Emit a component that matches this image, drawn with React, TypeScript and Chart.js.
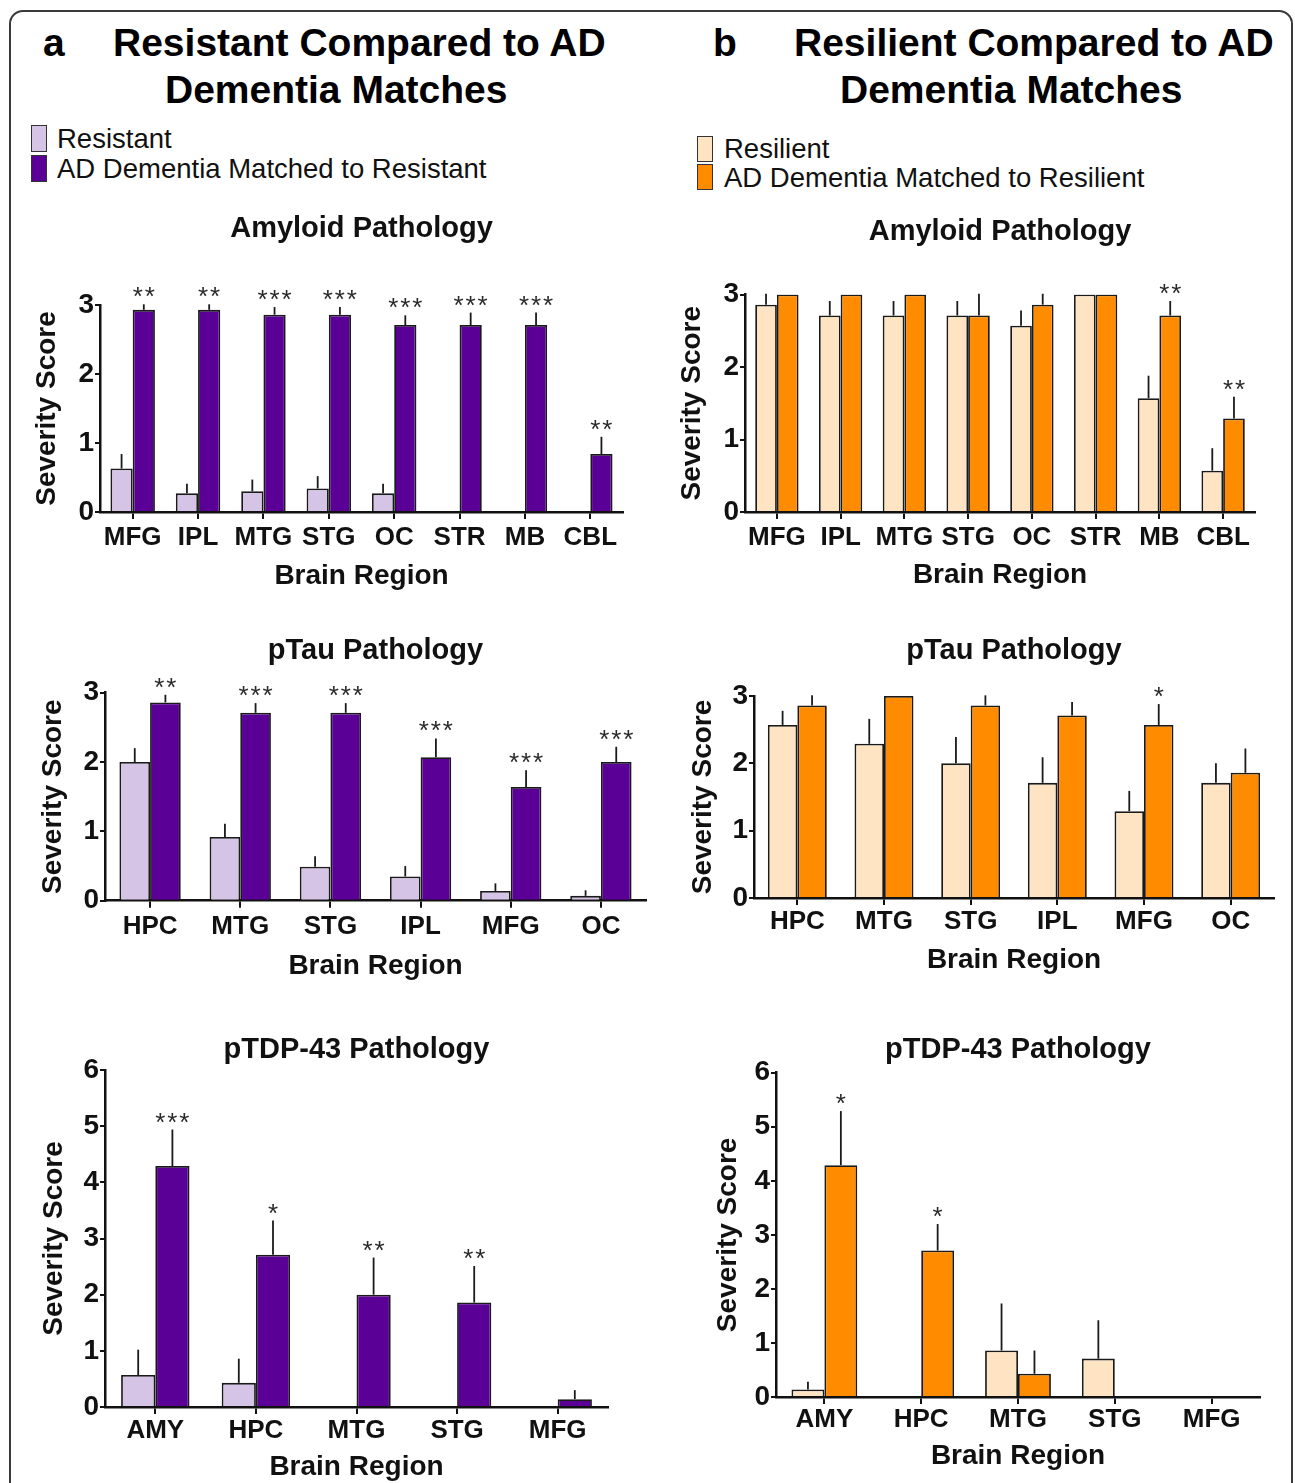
import React, { useEffect, useRef } from "react";
import { Chart, registerables } from "chart.js";

Chart.register(...registerables);

// ---------------- data ----------------
const AMYLOID_REGIONS = ["MFG", "IPL", "MTG", "STG", "OC", "STR", "MB", "CBL"];
const PTAU_REGIONS = ["HPC", "MTG", "STG", "IPL", "MFG", "OC"];
const TDP_REGIONS = ["AMY", "HPC", "MTG", "STG", "MFG"];

const SERIES_RESISTANT = "Resistant";
const SERIES_RESISTANT_MATCH = "AD Dementia Matched to Resistant";
const SERIES_RESILIENT = "Resilient";
const SERIES_RESILIENT_MATCH = "AD Dementia Matched to Resilient";

// Panel a – Amyloid
const amyloidResistant = [0.63, 0.27, 0.3, 0.34, 0.27, 0, 0, 0];
const amyloidResistantErr = [0.21, 0.14, 0.17, 0.18, 0.14, 0, 0, 0];
const amyloidResistantMatch = [2.93, 2.93, 2.86, 2.86, 2.71, 2.71, 2.71, 0.84];
const amyloidResistantMatchErr = [0.08, 0.08, 0.11, 0.11, 0.14, 0.18, 0.18, 0.25];
const amyloidResistantSig = ["**", "**", "***", "***", "***", "***", "***", "**"];

// Panel b – Amyloid
const amyloidResilient = [2.86, 2.71, 2.71, 2.71, 2.57, 3.0, 1.57, 0.57];
const amyloidResilientErr = [0.15, 0.2, 0.2, 0.2, 0.21, 0, 0.31, 0.31];
const amyloidResilientMatch = [3.0, 3.0, 3.0, 2.71, 2.86, 3.0, 2.71, 1.29];
const amyloidResilientMatchErr = [0, 0, 0, 0.3, 0.15, 0, 0.2, 0.3];
const amyloidResilientSig = ["", "", "", "", "", "", "**", "**"];

// Panel a – pTau
const ptauResistant = [2.0, 0.92, 0.49, 0.35, 0.14, 0.07];
const ptauResistantErr = [0.2, 0.19, 0.15, 0.15, 0.11, 0.08];
const ptauResistantMatch = [2.86, 2.71, 2.71, 2.07, 1.64, 2.0];
const ptauResistantMatchErr = [0.11, 0.14, 0.14, 0.27, 0.24, 0.22];
const ptauResistantSig = ["**", "***", "***", "***", "***", "***"];

// Panel b – pTau
const ptauResilient = [2.57, 2.29, 2.0, 1.71, 1.29, 1.71];
const ptauResilientErr = [0.21, 0.37, 0.39, 0.38, 0.3, 0.29];
const ptauResilientMatch = [2.86, 3.0, 2.86, 2.71, 2.57, 1.86];
const ptauResilientMatchErr = [0.15, 0, 0.15, 0.2, 0.31, 0.36];
const ptauResilientSig = ["", "", "", "", "*", ""];

// Panel a – pTDP-43
const tdpResistant = [0.57, 0.43, 0, 0, 0];
const tdpResistantErr = [0.45, 0.43, 0, 0, 0];
const tdpResistantMatch = [4.29, 2.71, 2.0, 1.86, 0.14];
const tdpResistantMatchErr = [0.65, 0.61, 0.66, 0.65, 0.16];
const tdpResistantSig = ["***", "*", "**", "**", ""];

// Panel b – pTDP-43
const tdpResilient = [0.14, 0, 0.86, 0.71, 0];
const tdpResilientErr = [0.14, 0, 0.87, 0.71, 0];
const tdpResilientMatch = [4.29, 2.71, 0.43, 0, 0];
const tdpResilientMatchErr = [1.0, 0.49, 0.43, 0, 0];
const tdpResilientSig = ["*", "*", "", "", ""];

// ---------------- style ----------------
const FONT = '"Liberation Sans", Arial, Helvetica, sans-serif';
const INK = "#111111";
const COLOR_RESISTANT = "#d5c4e5";
const COLOR_RESISTANT_MATCH = "#5b0096";
const COLOR_RESILIENT = "#ffe4c4";
const COLOR_RESILIENT_MATCH = "#ff8c00";

type Panel = {
  title: string;
  labels: string[];
  a: number[];
  aErr: number[];
  b: number[];
  bErr: number[];
  sig: string[];
  nameA: string;
  nameB: string;
  colorA: string;
  colorB: string;
  yMax: number;
  areaLeft: number;
  areaRight: number;
  areaTop: number;
  areaBottom: number;
  titleY: number;
  xTitleY: number;
  yTitleX: number;
  tickGap: number;
};

const PANELS: Panel[] = [
  {
    title: "Amyloid Pathology", labels: AMYLOID_REGIONS,
    a: amyloidResistant, aErr: amyloidResistantErr,
    b: amyloidResistantMatch, bErr: amyloidResistantMatchErr, sig: amyloidResistantSig,
    nameA: SERIES_RESISTANT, nameB: SERIES_RESISTANT_MATCH,
    colorA: COLOR_RESISTANT, colorB: COLOR_RESISTANT_MATCH, yMax: 3,
    areaLeft: 100, areaRight: 623, areaTop: 305, areaBottom: 512,
    titleY: 229, xTitleY: 576, yTitleX: 47, tickGap: 26,
  },
  {
    title: "Amyloid Pathology", labels: AMYLOID_REGIONS,
    a: amyloidResilient, aErr: amyloidResilientErr,
    b: amyloidResilientMatch, bErr: amyloidResilientMatchErr, sig: amyloidResilientSig,
    nameA: SERIES_RESILIENT, nameB: SERIES_RESILIENT_MATCH,
    colorA: COLOR_RESILIENT, colorB: COLOR_RESILIENT_MATCH, yMax: 3,
    areaLeft: 745, areaRight: 1255, areaTop: 294.5, areaBottom: 512,
    titleY: 232, xTitleY: 575, yTitleX: 692, tickGap: 26,
  },
  {
    title: "pTau Pathology", labels: PTAU_REGIONS,
    a: ptauResistant, aErr: ptauResistantErr,
    b: ptauResistantMatch, bErr: ptauResistantMatchErr, sig: ptauResistantSig,
    nameA: SERIES_RESISTANT, nameB: SERIES_RESISTANT_MATCH,
    colorA: COLOR_RESISTANT, colorB: COLOR_RESISTANT_MATCH, yMax: 3,
    areaLeft: 105, areaRight: 646, areaTop: 692.7, areaBottom: 900.7,
    titleY: 651, xTitleY: 966, yTitleX: 53, tickGap: 26,
  },
  {
    title: "pTau Pathology", labels: PTAU_REGIONS,
    a: ptauResilient, aErr: ptauResilientErr,
    b: ptauResilientMatch, bErr: ptauResilientMatchErr, sig: ptauResilientSig,
    nameA: SERIES_RESILIENT, nameB: SERIES_RESILIENT_MATCH,
    colorA: COLOR_RESILIENT, colorB: COLOR_RESILIENT_MATCH, yMax: 3,
    areaLeft: 754, areaRight: 1274, areaTop: 696, areaBottom: 898,
    titleY: 651, xTitleY: 960, yTitleX: 703, tickGap: 24,
  },
  {
    title: "pTDP-43 Pathology", labels: TDP_REGIONS,
    a: tdpResistant, aErr: tdpResistantErr,
    b: tdpResistantMatch, bErr: tdpResistantMatchErr, sig: tdpResistantSig,
    nameA: SERIES_RESISTANT, nameB: SERIES_RESISTANT_MATCH,
    colorA: COLOR_RESISTANT, colorB: COLOR_RESISTANT_MATCH, yMax: 6,
    areaLeft: 105, areaRight: 608, areaTop: 1070, areaBottom: 1407,
    titleY: 1050, xTitleY: 1467, yTitleX: 54, tickGap: 24,
  },
  {
    title: "pTDP-43 Pathology", labels: TDP_REGIONS,
    a: tdpResilient, aErr: tdpResilientErr,
    b: tdpResilientMatch, bErr: tdpResilientMatchErr, sig: tdpResilientSig,
    nameA: SERIES_RESILIENT, nameB: SERIES_RESILIENT_MATCH,
    colorA: COLOR_RESILIENT, colorB: COLOR_RESILIENT_MATCH, yMax: 6,
    areaLeft: 776, areaRight: 1260, areaTop: 1072.7, areaBottom: 1397,
    titleY: 1050, xTitleY: 1456, yTitleX: 728, tickGap: 23,
  },
];

// error bars (upper only) and significance stars
const errorBarPlugin = {
  id: "errorBarsAndStars",
  afterDatasetsDraw(chart: any) {
    const ctx = chart.ctx;
    const yScale = chart.scales.y;
    chart.data.datasets.forEach((ds: any, i: number) => {
      const meta = chart.getDatasetMeta(i);
      meta.data.forEach((bar: any, j: number) => {
        const v = ds.data[j];
        const e = (ds.errors && ds.errors[j]) || 0;
        const errTop = yScale.getPixelForValue(v + e);
        if (e > 0) {
          ctx.save();
          ctx.strokeStyle = "#1a1a1a";
          ctx.lineWidth = 1.8;
          ctx.beginPath();
          ctx.moveTo(bar.x, bar.y);
          ctx.lineTo(bar.x, errTop);
          ctx.stroke();
          ctx.restore();
        }
        const s = ds.stars && ds.stars[j];
        if (s) {
          const n = s.length;
          ctx.save();
          ctx.fillStyle = "#2a2a2a";
          ctx.font = `26px ${FONT}`;
          ctx.textAlign = "center";
          ctx.textBaseline = "alphabetic";
          for (let k = 0; k < n; k++) {
            ctx.fillText("*", bar.x + (k - (n - 1) / 2) * 12, errTop + 1);
          }
          ctx.restore();
        }
      });
    });
  },
};

function BarPanel({ p }: { p: Panel }) {
  const ref = useRef<HTMLCanvasElement | null>(null);
  const canvasLeft = p.yTitleX - 20;
  const yW = p.areaLeft - canvasLeft;
  const padR = 12;
  const canvasW = p.areaRight + padR - canvasLeft;
  const canvasTop = p.titleY - 25;
  const xH = p.xTitleY + 18 - p.areaBottom;
  const canvasH = p.xTitleY + 18 - canvasTop;
  const titleSize = 29;

  useEffect(() => {
    if (!ref.current) return;
    const chart = new Chart(ref.current, {
      type: "bar",
      data: {
        labels: p.labels,
        datasets: [
          {
            label: p.nameA,
            data: p.a,
            errors: p.aErr,
            backgroundColor: p.colorA,
            borderColor: "#1a1a1a",
            borderWidth: 1.8,
          } as any,
          {
            label: p.nameB,
            data: p.b,
            errors: p.bErr,
            stars: p.sig,
            backgroundColor: p.colorB,
            borderColor: "#1a1a1a",
            borderWidth: 1.8,
          } as any,
        ],
      },
      options: {
        responsive: false,
        animation: false,
        events: [],
        layout: { padding: { left: 0, right: padR, top: 0, bottom: 0 } },
        datasets: { bar: { barPercentage: 1, categoryPercentage: 0.68 } },
        plugins: {
          legend: { display: false },
          tooltip: { enabled: false },
          title: {
            display: true,
            text: p.title,
            fullSize: false,
            color: INK,
            font: { family: FONT, size: titleSize, weight: "bold", lineHeight: 1 },
            padding: { top: 25 - titleSize / 2, bottom: p.areaTop - p.titleY - titleSize / 2 },
          },
        },
        scales: {
          x: {
            type: "category",
            offset: true,
            grid: {
              offset: false,
              drawOnChartArea: false,
              drawTicks: true,
              tickLength: 7,
              color: INK,
              lineWidth: 2,
            },
            border: { display: true, color: INK, width: 2.5 },
            ticks: {
              color: INK,
              padding: p.tickGap - 7 - 13,
              maxRotation: 0,
              autoSkip: false,
              font: { family: FONT, size: 26, weight: "bold", lineHeight: 1 },
            },
            title: {
              display: true,
              text: "Brain Region",
              color: INK,
              font: { family: FONT, size: 28, weight: "bold", lineHeight: 1 },
              padding: { top: 0, bottom: 4 },
            },
            afterFit: (scale: any) => {
              scale.height = xH;
            },
          },
          y: {
            type: "linear",
            min: 0,
            max: p.yMax,
            grid: {
              drawOnChartArea: false,
              drawTicks: true,
              tickLength: 5,
              color: INK,
              lineWidth: 2,
            },
            border: { display: true, color: INK, width: 2.5 },
            ticks: {
              stepSize: 1,
              color: INK,
              padding: 1,
              font: { family: FONT, size: 28, weight: "bold", lineHeight: 1 },
            },
            title: {
              display: true,
              text: "Severity Score",
              color: INK,
              font: { family: FONT, size: 28, weight: "bold", lineHeight: 1 },
              padding: { top: 6, bottom: 0 },
            },
            afterFit: (scale: any) => {
              scale.width = yW;
            },
          },
        },
      } as any,
      plugins: [errorBarPlugin],
    });
    return () => chart.destroy();
  }, []);

  return (
    <canvas
      ref={ref}
      width={canvasW}
      height={canvasH}
      style={{
        position: "absolute",
        left: canvasLeft,
        top: canvasTop,
        width: canvasW,
        height: canvasH,
      }}
    />
  );
}

const headerStyle: React.CSSProperties = {
  position: "absolute",
  fontFamily: FONT,
  fontWeight: "bold",
  fontSize: 39,
  lineHeight: "39px",
  whiteSpace: "nowrap",
  color: "#000",
};

const legendTextStyle: React.CSSProperties = {
  position: "absolute",
  fontFamily: FONT,
  fontSize: 27.5,
  lineHeight: "27.5px",
  whiteSpace: "nowrap",
  color: "#111",
};

function Swatch({ left, top, h, color }: { left: number; top: number; h: number; color: string }) {
  return (
    <div
      style={{
        position: "absolute",
        left,
        top,
        width: 16,
        height: h,
        background: color,
        border: "1.5px solid #333",
        boxSizing: "border-box",
      }}
    />
  );
}

export default function App() {
  return (
    <div
      style={{
        position: "absolute",
        left: 0,
        top: 0,
        width: 1295,
        height: 1483,
        overflow: "hidden",
        background: "#fff",
        fontFamily: FONT,
      }}
    >
      <div
        style={{
          position: "absolute",
          left: 9,
          top: 10,
          width: 1284,
          height: 1520,
          border: "2px solid #3a3a3a",
          borderRadius: 14,
          boxSizing: "border-box",
        }}
      />
      {/* Panel a header */}
      <div style={{ ...headerStyle, left: 43, top: 23 }}>a</div>
      <div style={{ ...headerStyle, left: 113, top: 23 }}>Resistant Compared to AD</div>
      <div style={{ ...headerStyle, left: 165, top: 70 }}>Dementia Matches</div>
      {/* Panel b header */}
      <div style={{ ...headerStyle, left: 713, top: 23 }}>b</div>
      <div style={{ ...headerStyle, left: 794, top: 23 }}>Resilient Compared to AD</div>
      <div style={{ ...headerStyle, left: 840, top: 70 }}>Dementia Matches</div>

      {/* Legend a */}
      <Swatch left={31} top={125} h={27} color={COLOR_RESISTANT} />
      <Swatch left={31} top={155} h={27} color={COLOR_RESISTANT_MATCH} />
      <div style={{ ...legendTextStyle, left: 57, top: 124.7 }}>{SERIES_RESISTANT}</div>
      <div style={{ ...legendTextStyle, left: 57, top: 154.7 }}>{SERIES_RESISTANT_MATCH}</div>

      {/* Legend b */}
      <Swatch left={697} top={136} h={26} color={COLOR_RESILIENT} />
      <Swatch left={697} top={164} h={26} color={COLOR_RESILIENT_MATCH} />
      <div style={{ ...legendTextStyle, left: 724, top: 134.7 }}>{SERIES_RESILIENT}</div>
      <div style={{ ...legendTextStyle, left: 724, top: 163.7 }}>{SERIES_RESILIENT_MATCH}</div>

      {PANELS.map((p, i) => (
        <BarPanel key={i} p={p} />
      ))}
    </div>
  );
}
